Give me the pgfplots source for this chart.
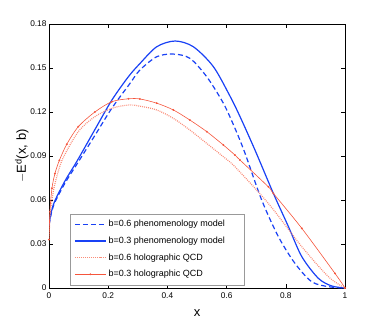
\documentclass[border=0pt]{standalone}
\usepackage{pgfplots}
\pgfplotsset{compat=1.18}
\usepackage{fontspec}
\setmainfont{Liberation Sans}
\definecolor{cblue}{RGB}{25,65,245}
\definecolor{cred}{RGB}{245,85,60}
\definecolor{cpink}{RGB}{250,140,120}
\begin{document}
\begin{tikzpicture}
\begin{axis}[
  at={(0pt,0pt)}, anchor=south west,
  scale only axis, width=296pt, height=264pt,
  xmin=0, xmax=1, ymin=0, ymax=0.18,
  xtick={0,0.2,0.4,0.6,0.8,1},
  xticklabels={0,0.2,0.4,0.6,0.8,1},
  ytick={0,0.03,0.06,0.09,0.12,0.15,0.18},
  yticklabels={0,0.03,0.06,0.09,0.12,0.15,0.18},
  tick align=inside, major tick length=4pt,
  tick style={black, line width=0.4pt},
  axis line style={black, line width=0.6pt},
  ticklabel style={font=\fontsize{8.3}{9}\selectfont},
  xticklabel style={yshift=-1pt},
  yticklabel style={xshift=1pt},
  xlabel={x}, ylabel={$-$E\textsuperscript{d}(x, b)},
  label style={font=\fontsize{13}{15}\selectfont},
  xlabel style={at={(axis description cs:0.5,-0.095)}, anchor=center},
  ylabel style={at={(axis description cs:-0.092,0.5)}, anchor=center, rotate=0},
  legend style={at={(0.071,0.011)}, anchor=south west, draw=gray!80, line width=0.6pt,
    font=\fontsize{9}{10}\selectfont, row sep=4.6pt, inner xsep=4pt, inner ysep=4.5pt},
  legend cell align=left,
  legend image code/.code={\draw[mark repeat=2,mark phase=2,#1] plot coordinates {(0pt,0pt) (15.5pt,0pt) (31pt,0pt)};},
]
\addplot[cblue, line width=1.2pt, dash pattern=on 5pt off 3pt, smooth] coordinates {
(0,0.043) (0.008,0.051) (0.02,0.0585) (0.054,0.0715) (0.096,0.085) (0.155,0.104) (0.212,0.1225)
(0.274,0.1396) (0.307,0.1486) (0.364,0.1577) (0.42,0.1595) (0.476,0.1566)
(0.533,0.144) (0.589,0.126) (0.628,0.109) (0.662,0.092) (0.7185,0.060)
(0.775,0.035) (0.831,0.0168) (0.8875,0.0043) (0.944,0.0009) (1,0)};
\addlegendentry{b=0.6 phenomenology model\hspace*{13pt}}
\addplot[cblue, line width=1.2pt, smooth] coordinates {
(0,0.043) (0.008,0.052) (0.02,0.0595) (0.054,0.0730) (0.096,0.087) (0.155,0.108) (0.212,0.128)
(0.268,0.144) (0.307,0.153) (0.364,0.1645) (0.426,0.1684) (0.4876,0.1645)
(0.555,0.151) (0.611,0.131) (0.645,0.117) (0.696,0.094) (0.758,0.0645)
(0.809,0.0418) (0.854,0.0214) (0.91,0.0066) (0.955,0.0014) (1,0)};
\addlegendentry{b=0.3 phenomenology model}
\addplot[cpink, line width=1.2pt, dash pattern=on 0.9pt off 1.1pt, smooth] coordinates {
(0,0.033) (0.003,0.047) (0.01,0.060) (0.02,0.071) (0.045,0.0875) (0.099,0.1066)
(0.155,0.1168) (0.212,0.1225) (0.268,0.1248) (0.307,0.124) (0.364,0.1214)
(0.42,0.1157) (0.476,0.1077) (0.533,0.0986) (0.589,0.0895) (0.628,0.0827)
(0.741,0.0577) (0.854,0.0282) (0.944,0.0077) (1,0)};
\addlegendentry{b=0.6 holographic QCD}
\addplot[cred, line width=0.6pt, smooth, mark=*, mark size=0.6pt, mark options={solid}] coordinates {
(0,0.033) (0.003,0.052) (0.01,0.068) (0.02,0.078) (0.035,0.087) (0.06,0.098)
(0.099,0.110) (0.155,0.120) (0.212,0.127) (0.268,0.129)
(0.307,0.1289) (0.364,0.126) (0.42,0.1214) (0.476,0.1145) (0.533,0.1066)
(0.589,0.0975) (0.628,0.0907) (0.645,0.0873) (0.741,0.069) (0.758,0.0645)
(0.854,0.0407) (0.966,0.010) (1,0)};
\addlegendentry{b=0.3 holographic QCD}
\end{axis}
\path[use as bounding box] (-49pt,-39pt) rectangle (333pt,288pt);
\end{tikzpicture}
\end{document}
